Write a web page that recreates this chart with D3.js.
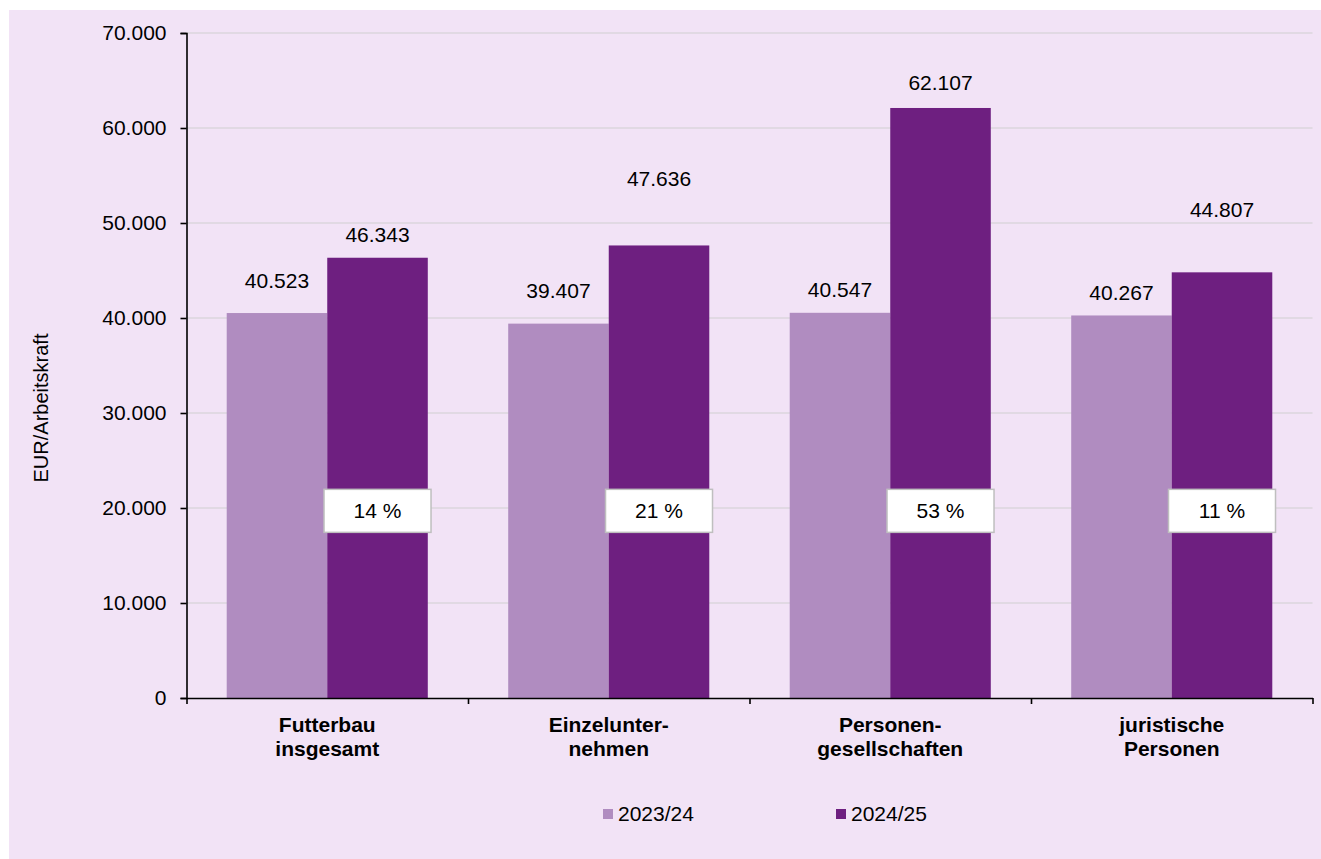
<!DOCTYPE html>
<html><head><meta charset="utf-8">
<script src="https://cdn.jsdelivr.net/npm/d3@7"></script>
<style>
html,body{margin:0;padding:0;background:#fff;}
svg text{font-family:"Liberation Sans",Arial,sans-serif;fill:#000;}
</style></head>
<body>
<svg id="chart" width="1321" height="859"></svg>
<script>
// ---- data ----
const categories = [["Futterbau","insgesamt"],["Einzelunter-","nehmen"],["Personen-","gesellschaften"],["juristische","Personen"]];
const seriesNames = ["2023/24","2024/25"];
const values2023 = [40523, 39407, 40547, 40267];
const values2024 = [46343, 47636, 62107, 44807];
const changeLabels = ["14 %","21 %","53 %","11 %"];
const yTicks = [0,10000,20000,30000,40000,50000,60000,70000];
const yTitle = "EUR/Arbeitskraft";

// ---- layout / style ----
const colors = ["#b08cc0","#6e1f80"];
const labelLift = [[32,33,23,23],[23,67,25,63]]; // manual label offsets above bars (px)
const boxLevel = 19700; // vertical level of change boxes (in axis units)
const fs = 21;

const svg = d3.select("#chart");
svg.append("rect").attr("x",9).attr("y",10).attr("width",1312).attr("height",849).attr("fill","#f2e3f6");

const mLeft = 186.5, mRight = 1312.5, mTop = 33, mBottom = 698;
const x0 = d3.scaleBand().domain(d3.range(categories.length)).range([mLeft,mRight]).paddingInner(0).paddingOuter(0);
const x1 = d3.scaleBand().domain(d3.range(seriesNames.length)).range([0,x0.bandwidth()]).paddingInner(0).paddingOuter(0.4);
const y = d3.scaleLinear().domain([0,70000]).range([mBottom,mTop]);
const loc = d3.formatLocale({decimal:",",thousands:".",grouping:[3],currency:["","€"]});
const fmt = loc.format(",.0f");

// gridlines
svg.append("g").selectAll("line").data(yTicks.filter(d=>d>0)).join("line")
  .attr("x1",mLeft).attr("x2",mRight).attr("y1",d=>y(d)).attr("y2",d=>y(d))
  .attr("stroke","#cfcfcf").attr("stroke-width",1.2);

// bars
const series = [values2023, values2024];
series.forEach((vals,si)=>{
  svg.append("g").selectAll("rect").data(vals).join("rect")
    .attr("x",(d,i)=>x0(i)+x1(si))
    .attr("width",x1.bandwidth())
    .attr("y",d=>y(d)).attr("height",d=>mBottom-y(d))
    .attr("fill",colors[si]);
  svg.append("g").selectAll("text").data(vals).join("text")
    .attr("x",(d,i)=>x0(i)+x1(si)+x1.bandwidth()/2)
    .attr("y",(d,i)=>y(d)-labelLift[si][i])
    .attr("dy","0.35em")
    .attr("text-anchor","middle").attr("font-size",fs)
    .text(d=>fmt(d));
});

// y axis
const yAxis = d3.axisLeft(y).tickValues(yTicks).tickFormat(d=>fmt(d)).tickSize(6).tickPadding(14);
const gy = svg.append("g").attr("transform",`translate(${mLeft},0)`).call(yAxis);
gy.select(".domain").attr("stroke","#000").attr("stroke-width",1.6);
gy.selectAll(".tick line").attr("stroke","#000").attr("stroke-width",1.6);
gy.selectAll(".tick text").attr("font-size",fs).attr("font-family","Liberation Sans, Arial, sans-serif").attr("fill","#000");

// x axis
const xb = d3.scaleLinear().domain([0,categories.length]).range([mLeft,mRight]);
const gx = svg.append("g").attr("transform",`translate(0,${mBottom})`)
  .call(d3.axisBottom(xb).tickValues(d3.range(categories.length+1)).tickFormat("").tickSize(6).tickSizeOuter(0));
gx.select(".domain").attr("stroke","#000").attr("stroke-width",1.6);
gx.selectAll(".tick line").attr("stroke","#000").attr("stroke-width",1.6);

// category labels
const cl = svg.append("g").selectAll("text").data(categories).join("text")
  .attr("text-anchor","middle").attr("font-size",fs).attr("font-weight","bold");
cl.each(function(d,i){
  const t = d3.select(this);
  d.forEach((line,li)=>{
    t.append("tspan").attr("x",x0(i)+x0.bandwidth()/2).attr("y",mBottom+34+li*23.5).text(line);
  });
});

// change boxes
const bw = 107, bh = 43;
const bg = svg.append("g").selectAll("g").data(changeLabels).join("g")
  .attr("transform",(d,i)=>`translate(${x0(i)+x1(1)+x1.bandwidth()/2},${y(boxLevel)})`);
bg.append("rect").attr("x",-bw/2).attr("y",-bh/2).attr("width",bw).attr("height",bh)
  .attr("fill","#fff").attr("stroke","#bfbfbf").attr("stroke-width",1.5);
bg.append("text").attr("text-anchor","middle").attr("dy","0.35em").attr("font-size",fs).text(d=>d);

// y title
svg.append("text").attr("transform","translate(48,408) rotate(-90)")
  .attr("text-anchor","middle").attr("font-size",fs-1).text(yTitle);

// legend
const legX = [603, 836];
const lg = svg.append("g").selectAll("g").data(seriesNames).join("g")
  .attr("transform",(d,i)=>`translate(${legX[i]},814)`);
lg.append("rect").attr("x",0).attr("y",-5).attr("width",10).attr("height",10).attr("fill",(d,i)=>colors[i]);
lg.append("text").attr("x",15).attr("dy","0.35em").attr("font-size",fs).text(d=>d);
</script>
</body></html>
